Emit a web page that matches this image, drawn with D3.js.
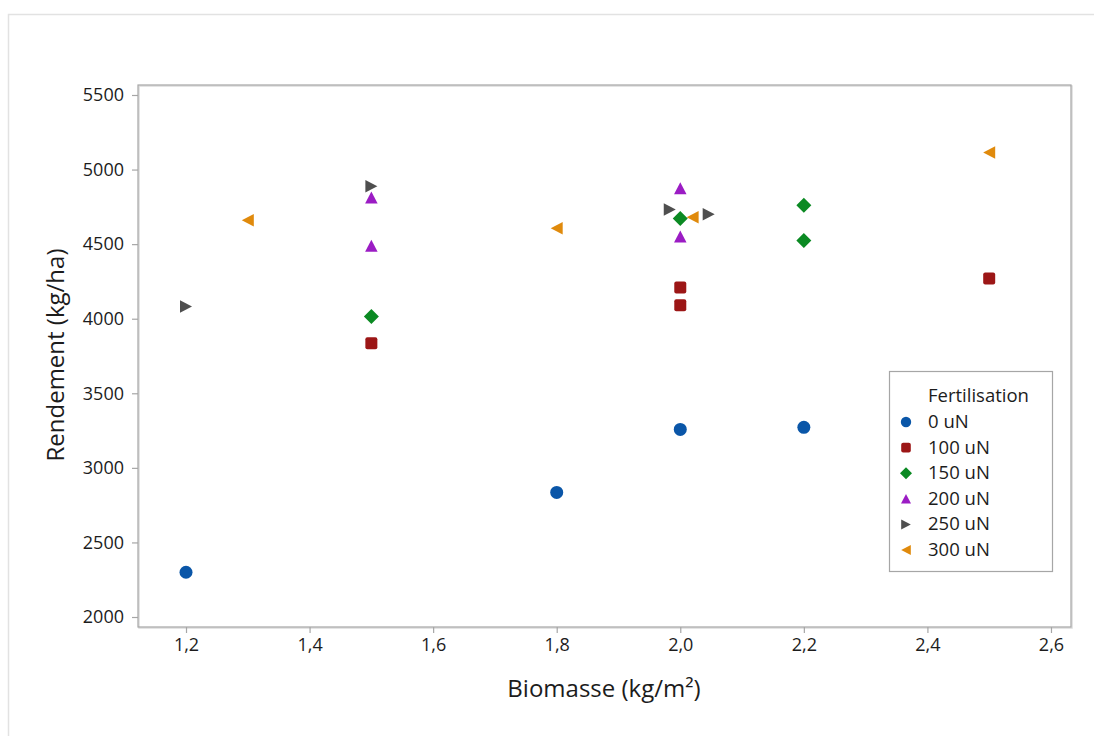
<!DOCTYPE html>
<html>
<head>
<meta charset="utf-8">
<script src="https://cdn.jsdelivr.net/npm/d3@7"></script>
<style>
  html, body { margin: 0; padding: 0; background: #fff; }
  svg { display: block; font-family: "Open Sans", "Noto Sans", sans-serif; }
</style>
</head>
<body>
<svg id="chart" width="1094" height="736"></svg>
<script>
// ---- data ----
const seriesNames = ["0 uN", "100 uN", "150 uN", "200 uN", "250 uN", "300 uN"];
const s0   = [[1.2, 2300], [1.8, 2835], [2.0, 3258], [2.2, 3272]];
const s100 = [[1.5, 3835], [2.0, 4210], [2.0, 4090], [2.5, 4270]];
const s150 = [[1.5, 4015], [2.0, 4672], [2.2, 4760], [2.2, 4525]];
const s200 = [[1.5, 4812], [1.5, 4490], [2.0, 4875], [2.0, 4552]];
const s250 = [[1.2, 4082], [1.5, 4888], [1.983, 4733], [2.046, 4700]];
const s300 = [[1.3, 4660], [1.8, 4606], [2.02, 4680], [2.5, 5115]];
const xTicks = [1.2, 1.4, 1.6, 1.8, 2.0, 2.2, 2.4, 2.6];
const yTicks = [2000, 2500, 3000, 3500, 4000, 4500, 5000, 5500];

const colors = ["#0a56a8", "#9c1616", "#0b8a23", "#9b1cc4", "#4f4f4f", "#e08a0c"];
const allSeries = [s0, s100, s150, s200, s250, s300];

// ---- layout ----
const svg = d3.select("#chart");
const plot = { left: 138, right: 1071, top: 85, bottom: 627 };

const x = d3.scaleLinear().domain([1.1223, 2.6324]).range([plot.left, plot.right]);
const y = d3.scaleLinear().domain([1933, 5567]).range([plot.bottom, plot.top]);

// outer panel border
svg.append("path")
  .attr("d", `M8.5,740 V14.5 H1100`)
  .attr("fill", "none").attr("stroke", "#e2e2e2").attr("stroke-width", 1.5);

// plot frame
svg.append("rect")
  .attr("x", plot.left + 1).attr("y", plot.top + 1)
  .attr("width", plot.right - plot.left).attr("height", plot.bottom - plot.top)
  .attr("fill", "none").attr("stroke", "#dcdcdc").attr("stroke-width", 1.5);
svg.append("rect")
  .attr("x", plot.left).attr("y", plot.top)
  .attr("width", plot.right - plot.left).attr("height", plot.bottom - plot.top)
  .attr("fill", "none").attr("stroke", "#a6a6a6").attr("stroke-width", 1.2);

// axes
const xAxis = d3.axisBottom(x).tickValues(xTicks)
  .tickFormat(d => d3.format(".1f")(d).replace(".", ","))
  .tickSizeOuter(0).tickSizeInner(6).tickPadding(5);
const yAxis = d3.axisLeft(y).tickValues(yTicks)
  .tickFormat(d3.format("d"))
  .tickSizeOuter(0).tickSizeInner(6).tickPadding(8);

const gx = svg.append("g").attr("transform", `translate(0,${plot.bottom})`).call(xAxis);
const gy = svg.append("g").attr("transform", `translate(${plot.left},0)`).call(yAxis);
[gx, gy].forEach(g => {
  g.select(".domain").remove();
  g.selectAll(".tick line").attr("stroke", "#a6a6a6").attr("stroke-width", 1.2);
  g.selectAll(".tick text").attr("fill", "#1c1c1c").style("font-size", "18px")
    .style("font-family", "'Open Sans', sans-serif");
});

// axis titles
svg.append("text")
  .attr("x", 604).attr("y", 697)
  .attr("text-anchor", "middle").attr("fill", "#1c1c1c")
  .style("font-size", "24px")
  .text("Biomasse (kg/m²)");
svg.append("text")
  .attr("transform", `translate(64,355) rotate(-90)`)
  .attr("text-anchor", "middle").attr("fill", "#1c1c1c")
  .style("font-size", "24px")
  .text("Rendement (kg/ha)");

// marker shapes (relative paths)
function shape(i, s) {
  switch (i) {
    case 0: { const r = s * 0.52; return d3.arc()({innerRadius: 0, outerRadius: r, startAngle: 0, endAngle: 2 * Math.PI}); }
    case 1: { const h = s * 0.48; return `M${-h},${-h + 2}Q${-h},${-h} ${-h + 2},${-h}H${h - 2}Q${h},${-h} ${h},${-h + 2}V${h - 2}Q${h},${h} ${h - 2},${h}H${-h + 2}Q${-h},${h} ${-h},${h - 2}Z`; }
    case 2: { const h = s * 0.6; return `M0,${-h}L${h},0L0,${h}L${-h},0Z`; }
    case 3: { const w = s * 0.5, h = s * 0.48; return `M0,${-h}L${w},${h}L${-w},${h}Z`; }
    case 4: { const w = s * 0.48, h = s * 0.5; return `M${w},0L${-w},${-h}L${-w},${h}Z`; }
    case 5: { const w = s * 0.48, h = s * 0.5; return `M${-w},0L${w},${-h}L${w},${h}Z`; }
  }
}

// draw points
allSeries.forEach((data, i) => {
  svg.append("g").selectAll("path").data(data).join("path")
    .attr("transform", d => `translate(${x(d[0])},${y(d[1])})`)
    .attr("d", shape(i, 12.5))
    .attr("fill", colors[i]);
});

// legend
const lg = svg.append("g");
lg.append("rect").attr("x", 889.5).attr("y", 371.5).attr("width", 163).attr("height", 200)
  .attr("fill", "#fff").attr("stroke", "#a6a6a6").attr("stroke-width", 1.2);
lg.append("text").attr("x", 928).attr("y", 402).attr("fill", "#1c1c1c")
  .style("font-size", "18.5px").text("Fertilisation");
seriesNames.forEach((name, i) => {
  const cy = 422 + i * 25.6;
  lg.append("path").attr("transform", `translate(906,${cy})`)
    .attr("d", shape(i, 10)).attr("fill", colors[i]);
  lg.append("text").attr("x", 928).attr("y", cy + 6).attr("fill", "#1c1c1c")
    .style("font-size", "18.5px").text(name);
});
</script>
</body>
</html>
